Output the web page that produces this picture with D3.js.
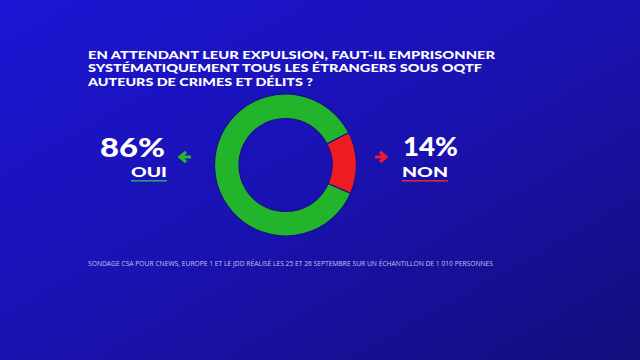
<!DOCTYPE html>
<html><head><meta charset="utf-8">
<script src="https://cdn.jsdelivr.net/npm/d3@7"></script>
<style>html,body{margin:0;padding:0;background:#1a12b0;}svg{display:block;}</style>
</head><body>
<script>
const titleLines = ["EN ATTENDANT LEUR EXPULSION, FAUT-IL EMPRISONNER","SYSTÉMATIQUEMENT TOUS LES ÉTRANGERS SOUS OQTF","AUTEURS DE CRIMES ET DÉLITS ?"];
const titleWidths = [407, 394, 225];
const labels = ["OUI","NON"];
const values = [86,14];
const colors = ["#22b52b","#ee1b23"];
const source = "SONDAGE CSA POUR CNEWS, EUROPE 1 ET LE JDD RÉALISÉ LES 25 ET 26 SEPTEMBRE SUR UN ÉCHANTILLON DE 1 010 PERSONNES";

const W=640,H=360;
const svg=d3.select("body").append("svg").attr("width",W).attr("height",H);
const defs=svg.append("defs");
const g1=defs.append("linearGradient").attr("id","bg").attr("x1","0").attr("y1","0").attr("x2","1").attr("y2","1");
g1.append("stop").attr("offset","0").attr("stop-color","#1c15d4");
g1.append("stop").attr("offset","0.5").attr("stop-color","#1a12b0");
g1.append("stop").attr("offset","1").attr("stop-color","#140d7c");
svg.append("rect").attr("width",W).attr("height",H).attr("fill","url(#bg)");

const font="Lato, 'Open Sans', sans-serif";
const title=svg.append("text").attr("x",88).attr("y",58.6)
  .attr("fill","#fff").attr("font-family",font).attr("font-weight",900).attr("font-size",11.2);
title.selectAll("tspan").data(titleLines).join("tspan")
  .attr("x",88).attr("y",(d,i)=>58.6+i*13.5)
  .attr("textLength",(d,i)=>titleWidths[i]).attr("lengthAdjust","spacingAndGlyphs")
  .text(d=>d);

const cx=285.5, cy=165, rO=71, rI=46.5;
const deg=Math.PI/180;
const pie=d3.pie().sort(null).startAngle(113.4*deg).endAngle(473.4*deg);
const arc=d3.arc().innerRadius(rI).outerRadius(rO);
svg.append("g").attr("transform",`translate(${cx},${cy})`)
  .selectAll("path").data(pie(values)).join("path")
  .attr("d",arc).attr("fill",(d,i)=>colors[i])
  .attr("stroke","#17108f").attr("stroke-width",1.2);

// left label
svg.append("text").attr("x",132.5).attr("y",156.5).attr("text-anchor","middle")
  .attr("fill","#fff").attr("font-family",font).attr("font-weight",900).attr("font-size",26)
  .attr("textLength",65).attr("lengthAdjust","spacingAndGlyphs").text(values[0]+"%");
svg.append("text").attr("x",149).attr("y",177).attr("text-anchor","middle")
  .attr("fill","#fff").attr("font-family",font).attr("font-weight",900).attr("font-size",14)
  .attr("textLength",36).attr("lengthAdjust","spacingAndGlyphs").text(labels[0]);
svg.append("rect").attr("x",131).attr("y",180).attr("width",36).attr("height",1.6).attr("fill","#2aa07a");
// right label
svg.append("text").attr("x",430.5).attr("y",156).attr("text-anchor","middle")
  .attr("fill","#fff").attr("font-family",font).attr("font-weight",900).attr("font-size",26)
  .attr("textLength",55).attr("lengthAdjust","spacingAndGlyphs").text(values[1]+"%");
svg.append("text").attr("x",425).attr("y",177.3).attr("text-anchor","middle")
  .attr("fill","#fff").attr("font-family",font).attr("font-weight",900).attr("font-size",14)
  .attr("textLength",46).attr("lengthAdjust","spacingAndGlyphs").text(labels[1]);
svg.append("rect").attr("x",402).attr("y",180).attr("width",46).attr("height",1.6).attr("fill","#d8283a");

// arrows
function arrow(x,y,dir,col){
  const s=dir;
  const p=`M${x-6*s},${y} L${x+3*s},${y} M${x-1*s},${y-5} L${x+5*s},${y} L${x-1*s},${y+5}`;
  svg.append("path").attr("d",p).attr("fill","none").attr("stroke",col).attr("stroke-width",3.2).attr("stroke-linecap","butt").attr("stroke-linejoin","miter");
}
arrow(185,157,-1,"#2bb52f");
arrow(381,157,1,"#ee1b2b");

svg.append("text").attr("x",88).attr("y",266).attr("fill","#c3c3ec")
  .attr("font-family","'Open Sans', sans-serif").attr("font-size",6.6)
  .attr("textLength",405).attr("lengthAdjust","spacingAndGlyphs").text(source);
</script>
</body></html>
